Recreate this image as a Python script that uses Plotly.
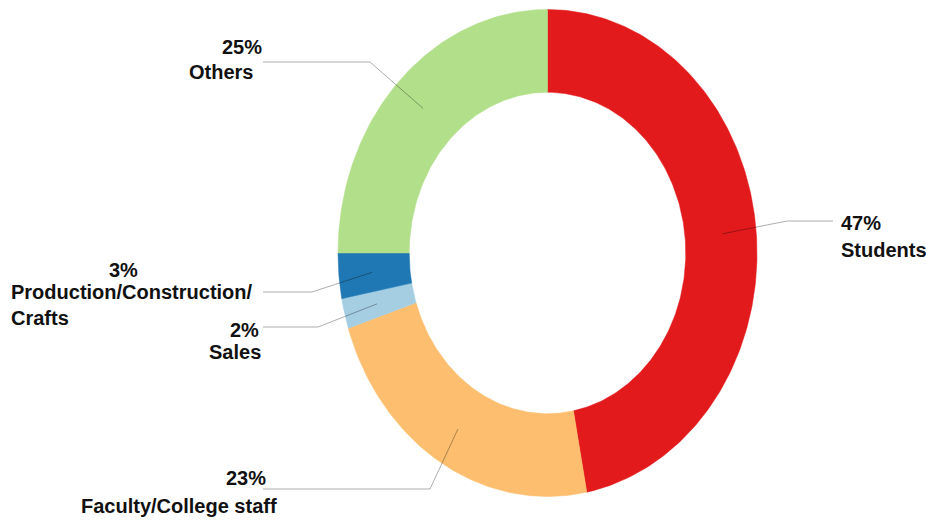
import numpy as np
import plotly.graph_objects as go

# ---- data ----
categories = ["Students", "Faculty/College staff", "Sales", "Production/Construction/Crafts", "Others"]
values = [47, 23, 2, 3, 25]
pct_labels = ["47%", "23%", "2%", "3%", "25%"]
colors = ["#E31A1C", "#FDBF6F", "#A6CEE3", "#1F78B4", "#B2DF8A"]

# ---- geometry / layout (pixel space) ----
W, H = 927, 520
CX, CY = 547.5, 253.0
RX, RY = 209.5, 243.5
HOLE = 0.66
LEADER_R = 0.84

fig = go.Figure()

total = float(sum(values))
start = 0.0
mids = []
for cat, v, col in zip(categories, values, colors):
    a0 = start / total * 2 * np.pi
    a1 = (start + v) / total * 2 * np.pi
    n = max(8, int(400 * v / total))
    t = np.linspace(a0, a1, n)
    ox = CX + RX * np.sin(t)
    oy = CY - RY * np.cos(t)
    ix = CX + RX * HOLE * np.sin(t[::-1])
    iy = CY - RY * HOLE * np.cos(t[::-1])
    xs = np.concatenate([ox, ix, ox[:1]])
    ys = np.concatenate([oy, iy, oy[:1]])
    fig.add_trace(go.Scatter(x=xs, y=ys, fill="toself", fillcolor=col, mode="lines",
                             line=dict(color=col, width=0.5), hoverinfo="skip", showlegend=False))
    mids.append((a0 + a1) / 2)
    start += v

# leader lines: (text-side start, elbow) per category
leader_pts = {
    "Students": [(833, 221), (787, 221)],
    "Faculty/College staff": [(263, 489), (430, 489)],
    "Sales": [(263, 327), (318, 327)],
    "Production/Construction/Crafts": [(263, 292), (312, 292)],
    "Others": [(263, 62), (370, 62)],
}
for cat, m in zip(categories, mids):
    ex = CX + RX * LEADER_R * np.sin(m)
    ey = CY - RY * LEADER_R * np.cos(m)
    pts = leader_pts[cat] + [(ex, ey)]
    fig.add_trace(go.Scatter(x=[p[0] for p in pts], y=[p[1] for p in pts], mode="lines",
                             line=dict(color="rgba(0,0,0,0.32)", width=1),
                             hoverinfo="skip", showlegend=False))

# label placement: (text, x, y, xanchor)
label_lines = {
    "Students": [(pct_labels[0], 840, 223, "left"), ("Students", 840, 250, "left")],
    "Faculty/College staff": [(pct_labels[1], 267, 478, "right"), ("Faculty/College staff", 80, 506, "left")],
    "Sales": [(pct_labels[2], 260, 330, "right"), ("Sales", 262, 352, "right")],
    "Production/Construction/Crafts": [(pct_labels[3], 123.5, 270, "center"),
                                       ("Production/Construction/", 10, 292, "left"),
                                       ("Crafts", 10, 318, "left")],
    "Others": [(pct_labels[4], 263, 47, "right"), ("Others", 254, 72, "right")],
}
for cat in categories:
    for txt, x, y, xa in label_lines[cat]:
        fig.add_annotation(x=x, y=y, xref="x", yref="y", text="<b>" + txt + "</b>",
                           showarrow=False, xanchor=xa, yanchor="middle",
                           font=dict(family="Liberation Sans, Arial, sans-serif", size=20, color="#111111"),
                           borderpad=0)

fig.update_layout(
    width=W, height=H,
    margin=dict(l=0, r=0, t=0, b=0),
    paper_bgcolor="white", plot_bgcolor="white",
    xaxis=dict(range=[0, W], visible=False, fixedrange=True),
    yaxis=dict(range=[H, 0], visible=False, fixedrange=True),
    showlegend=False,
)

fig.write_html("out.html")
